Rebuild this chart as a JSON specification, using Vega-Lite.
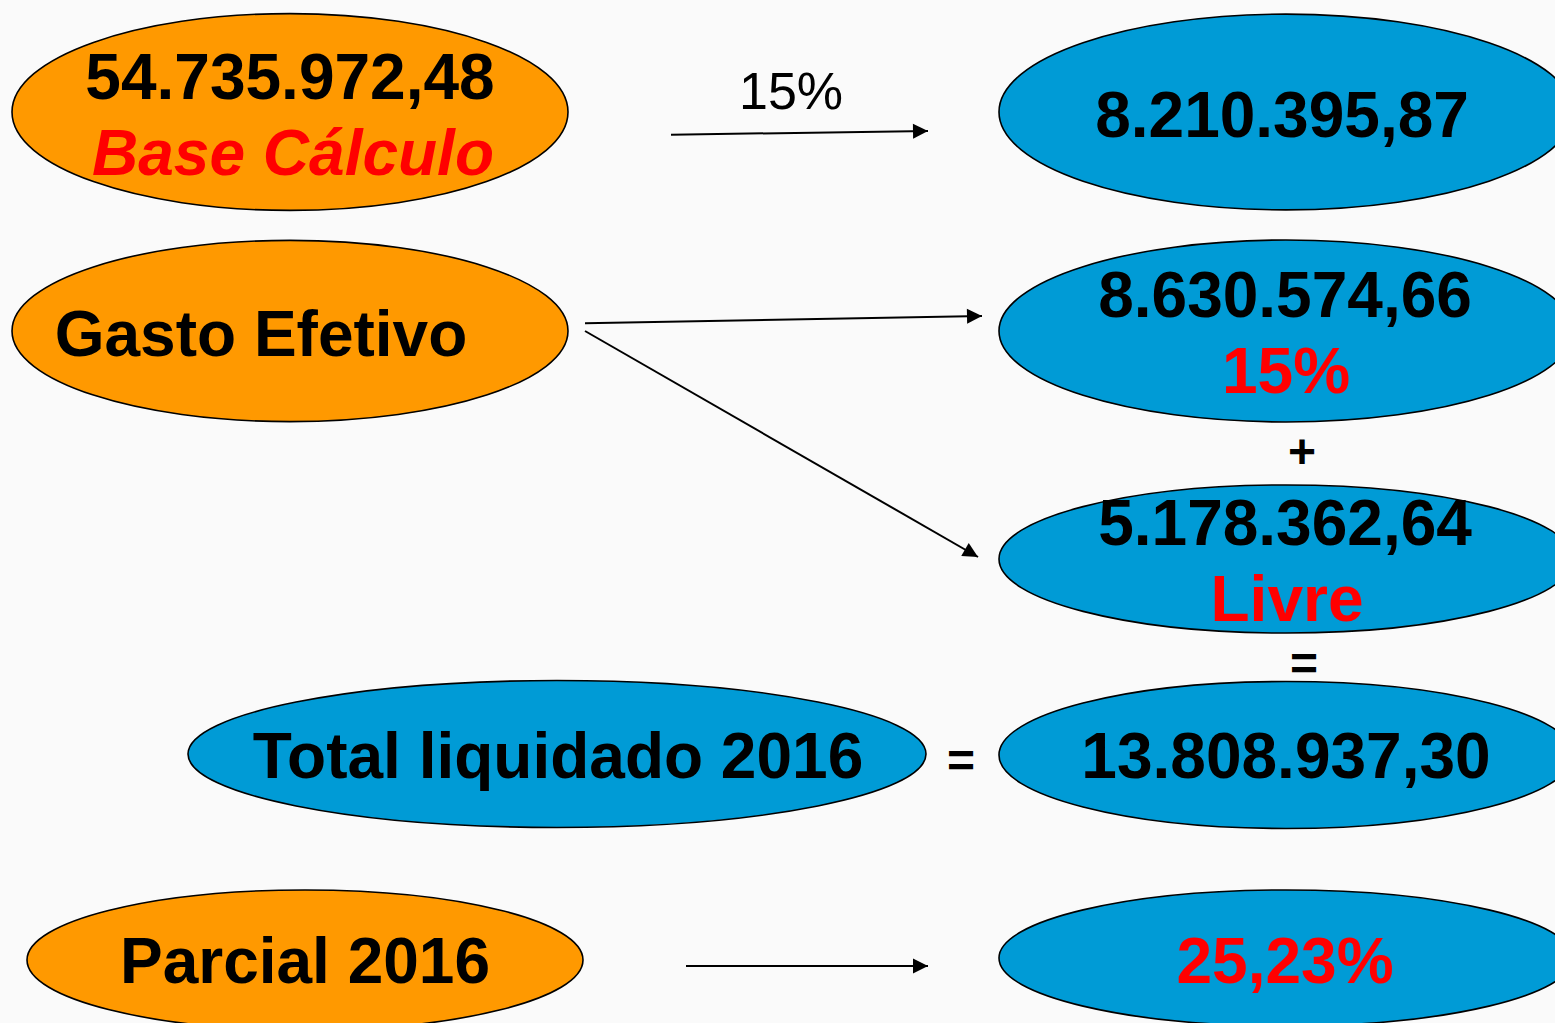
{
  "$schema": "https://vega.github.io/schema/vega-lite/v6.json",
  "width": 1555,
  "height": 1023,
  "autosize": "none",
  "padding": 0,
  "background": "#FAFAFA",
  "config": {"view": {"stroke": null}},
  "datasets": {
    "nodes": [
      {"id": "base", "col": "left", "kind": "orange", "x": 290, "y": 112},
      {"id": "gasto", "col": "left", "kind": "orange", "x": 290, "y": 331},
      {"id": "parcial", "col": "left", "kind": "orange", "x": 305, "y": 960},
      {"id": "total", "col": "mid", "kind": "blue", "x": 557, "y": 754},
      {"id": "v15", "col": "right", "kind": "blue", "x": 1286, "y": 112},
      {"id": "v863", "col": "right", "kind": "blue", "x": 1286, "y": 331},
      {"id": "livre", "col": "right", "kind": "blue", "x": 1286, "y": 559},
      {"id": "v138", "col": "right", "kind": "blue", "x": 1286, "y": 755},
      {"id": "pct", "col": "right", "kind": "blue", "x": 1286, "y": 958}
    ],
    "arrows": [
      {"x1": 671, "y1": 134.7, "x2": 928, "y2": 131, "angle": -0.8},
      {"x1": 585, "y1": 323.3, "x2": 982, "y2": 316, "angle": -1.05},
      {"x1": 585, "y1": 331, "x2": 978, "y2": 557, "angle": 29.9},
      {"x1": 686, "y1": 966, "x2": 928, "y2": 966, "angle": 0}
    ],
    "texts": [
      {"t": "54.735.972,48", "x": 290, "y": 99, "style": "bold"},
      {"t": "Base Cálculo", "x": 293, "y": 175, "style": "italic"},
      {"t": "15%", "x": 791, "y": 109, "style": "plain"},
      {"t": "8.210.395,87", "x": 1282, "y": 137, "style": "bold"},
      {"t": "Gasto Efetivo", "x": 261, "y": 356, "style": "bold"},
      {"t": "8.630.574,66", "x": 1285, "y": 317, "style": "bold"},
      {"t": "15%", "x": 1286, "y": 393, "style": "red"},
      {"t": "+", "x": 1302, "y": 468, "style": "sym"},
      {"t": "5.178.362,64", "x": 1285, "y": 545, "style": "bold"},
      {"t": "Livre", "x": 1287, "y": 621, "style": "red"},
      {"t": "=", "x": 1304, "y": 680, "style": "sym"},
      {"t": "Total liquidado 2016", "x": 558, "y": 778, "style": "bold"},
      {"t": "=", "x": 961, "y": 777, "style": "sym"},
      {"t": "13.808.937,30", "x": 1286, "y": 778, "style": "bold"},
      {"t": "Parcial 2016", "x": 305, "y": 983, "style": "bold"},
      {"t": "25,23%", "x": 1285, "y": 983, "style": "red"}
    ]
  },
  "layer": [
    {
      "data": {"name": "arrows"},
      "mark": {"type": "rule", "color": "black", "strokeWidth": 2},
      "encoding": {
        "x": {"field": "x1", "type": "quantitative", "scale": {"domain": [0, 1555], "nice": false, "zero": false}, "axis": null},
        "y": {"field": "y1", "type": "quantitative", "scale": {"domain": [0, 1023], "nice": false, "zero": false, "reverse": true}, "axis": null},
        "x2": {"field": "x2"},
        "y2": {"field": "y2"}
      }
    },
    {
      "data": {"name": "arrows"},
      "mark": {"type": "point", "filled": true, "opacity": 1, "color": "black", "strokeWidth": 0, "size": 225, "shape": "M0 0L-2 -1L-2 1Z"},
      "encoding": {
        "x": {"field": "x2", "type": "quantitative", "axis": null},
        "y": {"field": "y2", "type": "quantitative", "axis": null},
        "angle": {"field": "angle", "type": "quantitative", "scale": null}
      }
    },
    {
      "data": {"name": "nodes"},
      "transform": [{"filter": "datum.col === 'left'"}],
      "mark": {"type": "point", "filled": true, "opacity": 1, "stroke": "black", "strokeWidth": 1.6, "size": 309136},
      "encoding": {
        "x": {"field": "x", "type": "quantitative", "axis": null},
        "y": {"field": "y", "type": "quantitative", "axis": null},
        "shape": {"field": "id", "type": "nominal", "legend": null, "scale": {
          "domain": ["base", "gasto", "parcial", "total", "v15", "v863", "livre", "v138", "pct"],
          "range": [
            "M-1 0C-1 -0.1955 -0.5523 -0.354 0 -0.354C0.5523 -0.354 1 -0.1955 1 0C1 0.1955 0.5523 0.354 0 0.354C-0.5523 0.354 -1 0.1955 -1 0Z",
            "M-1 0C-1 -0.18 -0.5523 -0.326 0 -0.326C0.5523 -0.326 1 -0.18 1 0C1 0.18 0.5523 0.326 0 0.326C-0.5523 0.326 -1 0.18 -1 0Z",
            "M-1 0C-1 -0.1392 -0.5523 -0.252 0 -0.252C0.5523 -0.252 1 -0.1392 1 0C1 0.1392 0.5523 0.252 0 0.252C-0.5523 0.252 -1 0.1392 -1 0Z",
            "M-1 0C-1 -0.1099 -0.5523 -0.199 0 -0.199C0.5523 -0.199 1 -0.1099 1 0C1 0.1099 0.5523 0.199 0 0.199C-0.5523 0.199 -1 0.1099 -1 0Z",
            "M-1 0C-1 -0.1883 -0.5523 -0.341 0 -0.341C0.5523 -0.341 1 -0.1883 1 0C1 0.1883 0.5523 0.341 0 0.341C-0.5523 0.341 -1 0.1883 -1 0Z",
            "M-1 0C-1 -0.1751 -0.5523 -0.317 0 -0.317C0.5523 -0.317 1 -0.1751 1 0C1 0.1751 0.5523 0.317 0 0.317C-0.5523 0.317 -1 0.1751 -1 0Z",
            "M-1 0C-1 -0.1425 -0.5523 -0.258 0 -0.258C0.5523 -0.258 1 -0.1425 1 0C1 0.1425 0.5523 0.258 0 0.258C-0.5523 0.258 -1 0.1425 -1 0Z",
            "M-1 0C-1 -0.1414 -0.5523 -0.256 0 -0.256C0.5523 -0.256 1 -0.1414 1 0C1 0.1414 0.5523 0.256 0 0.256C-0.5523 0.256 -1 0.1414 -1 0Z",
            "M-1 0C-1 -0.1309 -0.5523 -0.237 0 -0.237C0.5523 -0.237 1 -0.1309 1 0C1 0.1309 0.5523 0.237 0 0.237C-0.5523 0.237 -1 0.1309 -1 0Z"
          ]}},
        "color": {"field": "kind", "type": "nominal", "legend": null, "scale": {"domain": ["orange", "blue"], "range": ["#FF9900", "#009BD6"]}}
      }
    },
    {
      "data": {"name": "nodes"},
      "transform": [{"filter": "datum.col === 'right'"}],
      "mark": {"type": "point", "filled": true, "opacity": 1, "stroke": "black", "strokeWidth": 1.6, "size": 329476},
      "encoding": {
        "x": {"field": "x", "type": "quantitative", "axis": null},
        "y": {"field": "y", "type": "quantitative", "axis": null},
        "shape": {"field": "id", "type": "nominal", "legend": null},
        "color": {"field": "kind", "type": "nominal", "legend": null}
      }
    },
    {
      "data": {"name": "nodes"},
      "transform": [{"filter": "datum.col === 'mid'"}],
      "mark": {"type": "point", "filled": true, "opacity": 1, "stroke": "black", "strokeWidth": 1.6, "size": 544644},
      "encoding": {
        "x": {"field": "x", "type": "quantitative", "axis": null},
        "y": {"field": "y", "type": "quantitative", "axis": null},
        "shape": {"field": "id", "type": "nominal", "legend": null},
        "color": {"field": "kind", "type": "nominal", "legend": null}
      }
    },
    {
      "data": {"name": "texts"},
      "transform": [{"filter": "datum.style === 'bold'"}],
      "mark": {"type": "text", "font": "Liberation Sans", "fontWeight": "bold", "fontSize": 64, "color": "black", "align": "center", "baseline": "alphabetic"},
      "encoding": {
        "x": {"field": "x", "type": "quantitative", "axis": null},
        "y": {"field": "y", "type": "quantitative", "axis": null},
        "text": {"field": "t"}
      }
    },
    {
      "data": {"name": "texts"},
      "transform": [{"filter": "datum.style === 'red'"}],
      "mark": {"type": "text", "font": "Liberation Sans", "fontWeight": "bold", "fontSize": 64, "color": "#FF0000", "align": "center", "baseline": "alphabetic"},
      "encoding": {
        "x": {"field": "x", "type": "quantitative", "axis": null},
        "y": {"field": "y", "type": "quantitative", "axis": null},
        "text": {"field": "t"}
      }
    },
    {
      "data": {"name": "texts"},
      "transform": [{"filter": "datum.style === 'italic'"}],
      "mark": {"type": "text", "font": "Liberation Sans", "fontWeight": "bold", "fontStyle": "italic", "fontSize": 64, "color": "#FF0000", "align": "center", "baseline": "alphabetic"},
      "encoding": {
        "x": {"field": "x", "type": "quantitative", "axis": null},
        "y": {"field": "y", "type": "quantitative", "axis": null},
        "text": {"field": "t"}
      }
    },
    {
      "data": {"name": "texts"},
      "transform": [{"filter": "datum.style === 'plain'"}],
      "mark": {"type": "text", "font": "Liberation Sans", "fontSize": 52, "color": "black", "align": "center", "baseline": "alphabetic"},
      "encoding": {
        "x": {"field": "x", "type": "quantitative", "axis": null},
        "y": {"field": "y", "type": "quantitative", "axis": null},
        "text": {"field": "t"}
      }
    },
    {
      "data": {"name": "texts"},
      "transform": [{"filter": "datum.style === 'sym'"}],
      "mark": {"type": "text", "font": "Liberation Sans", "fontWeight": "bold", "fontSize": 48, "color": "black", "align": "center", "baseline": "alphabetic"},
      "encoding": {
        "x": {"field": "x", "type": "quantitative", "axis": null},
        "y": {"field": "y", "type": "quantitative", "axis": null},
        "text": {"field": "t"}
      }
    }
  ]
}
